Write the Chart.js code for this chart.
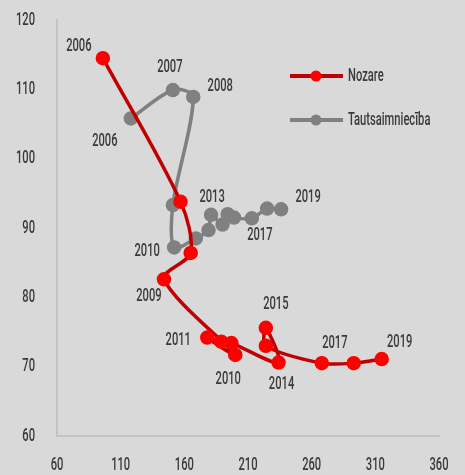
<!DOCTYPE html>
<html>
<head>
<meta charset="utf-8">
<script src="https://cdn.jsdelivr.net/npm/chart.js@4.4.1/dist/chart.umd.min.js"></script>
<style>
  html, body { margin: 0; padding: 0; background: #d9d9d9; }
  #wrap { width: 465px; height: 475px; }
</style>
</head>
<body>
<div id="wrap"><canvas id="chart-scatter" width="465" height="475"></canvas></div>
<script>
  // ========== Data ==========
  const years = [2006, 2007, 2008, 2009, 2010, 2011, 2012, 2013, 2014, 2015, 2016, 2017, 2018, 2019];
  const nozareX = [96, 157, 165, 144, 200, 178, 189, 197, 234, 224, 224, 268, 293, 315];
  const nozareY = [114.5, 93.8, 86.4, 82.6, 71.7, 74.2, 73.6, 73.4, 70.6, 75.6, 73.0, 70.5, 70.5, 71.1];
  const tautX = [118, 151, 167, 151, 152, 169, 179, 181, 190, 194, 199, 213, 225, 236];
  const tautY = [105.8, 109.9, 108.9, 93.3, 87.2, 88.5, 89.7, 91.9, 90.5, 92.0, 91.5, 91.4, 92.8, 92.7];
  const xTicks = [60, 110, 160, 210, 260, 310, 360];
  const yTicks = [60, 70, 80, 90, 100, 110, 120];
  const seriesNames = ["Nozare", "Tautsaimniecība"];
  const nozareLabelYears = [2006, 2009, 2010, 2011, 2014, 2015, 2017, 2019];
  const tautLabelYears = [2006, 2007, 2008, 2010, 2013, 2017, 2019];

  // label offsets from the point (px)
  const labelOffsets = [
    { 2006: [-24, -12], 2009: [-15, 17], 2010: [-7, 25], 2011: [-29, 3], 2014: [3, 22], 2015: [10, -23], 2017: [13, -20], 2019: [18, -17] },
    { 2006: [-26, 23], 2007: [-3, -23], 2008: [27, -10], 2010: [-27, 4], 2013: [1, -17], 2017: [8, 17], 2019: [27, -12] },
  ];
  const labelYears = [nozareLabelYears, tautLabelYears];

  // narrow look: no condensed font installed, so squeeze horizontally
  const FONT = "500 18px Roboto, sans-serif";
  const SQUEEZE = 0.62;
  const TEXT = "#3a3a3a";

  function drawText(ctx, txt, x, y, align) {
    ctx.save();
    ctx.translate(x, y);
    ctx.scale(SQUEEZE, 1);
    ctx.font = FONT;
    ctx.fillStyle = TEXT;
    ctx.textAlign = align;
    ctx.textBaseline = "middle";
    ctx.fillText(txt, 0, 0);
    ctx.restore();
  }

  const toPoints = (xs, ys) => xs.map((x, i) => ({ x: x, y: ys[i] }));

  const data = {
    datasets: [
      {
        label: seriesNames[0],
        data: toPoints(nozareX, nozareY),
        borderColor: "#c00000",
        backgroundColor: "#ff0000",
        pointBorderColor: "#ff0000",
        borderWidth: 3.5,
        pointRadius: 5.5,
        showLine: true,
        tension: 0.3,
      },
      {
        label: seriesNames[1],
        data: toPoints(tautX, tautY),
        borderColor: "#808080",
        backgroundColor: "#808080",
        pointBorderColor: "#808080",
        borderWidth: 3.5,
        pointRadius: 5.5,
        showLine: true,
        tension: 0.3,
      },
    ],
  };

  // plugin: tick labels (drawn by hand to get the narrow type)
  const tickLabels = {
    id: "tickLabels",
    afterDraw: (chart) => {
      const { ctx, scales } = chart;
      xTicks.forEach((v) => {
        drawText(ctx, String(v), scales.x.getPixelForValue(v), scales.x.top + 29, "center");
      });
      yTicks.forEach((v) => {
        drawText(ctx, String(v), scales.y.right - 22, scales.y.getPixelForValue(v), "right");
      });
    },
  };

  // plugin: year labels
  const yearLabels = {
    id: "yearLabels",
    afterDatasetsDraw: (chart) => {
      const { ctx } = chart;
      chart.data.datasets.forEach((ds, d) => {
        const meta = chart.getDatasetMeta(d);
        labelYears[d].forEach((yr) => {
          const el = meta.data[years.indexOf(yr)];
          const off = labelOffsets[d][yr];
          drawText(ctx, String(yr), el.x + off[0], el.y + off[1], "center");
        });
      });
    },
  };

  // plugin: legend drawn inside the plot
  const customLegend = {
    id: "customLegend",
    afterDraw: (chart) => {
      const { ctx } = chart;
      chart.data.datasets.forEach((ds, d) => {
        const y = 76 + d * 44;
        ctx.save();
        ctx.strokeStyle = ds.borderColor;
        ctx.lineWidth = 4;
        ctx.beginPath();
        ctx.moveTo(290, y);
        ctx.lineTo(343, y);
        ctx.stroke();
        ctx.fillStyle = ds.backgroundColor;
        ctx.beginPath();
        ctx.arc(316, y, 5.5, 0, Math.PI * 2);
        ctx.fill();
        ctx.restore();
        drawText(ctx, ds.label, 348, y, "left");
      });
    },
  };

  const ctxScatter = document.getElementById("chart-scatter").getContext("2d");
  const chartScatter = new Chart(ctxScatter, {
    type: "scatter",
    data: data,
    options: {
      responsive: false,
      animation: false,
      layout: { padding: { top: 20, right: 26, left: 0, bottom: 0 } },
      plugins: {
        legend: { display: false },
        tooltip: { enabled: false },
      },
      scales: {
        x: {
          type: "linear",
          min: xTicks[0],
          max: xTicks[xTicks.length - 1],
          afterFit: (scale) => { scale.height = 39; },
          grid: { display: false, drawTicks: false },
          border: { color: "#c4c4c4", width: 2 },
          ticks: { display: false },
        },
        y: {
          type: "linear",
          min: yTicks[0],
          max: yTicks[yTicks.length - 1],
          afterFit: (scale) => { scale.width = 57; },
          grid: { display: false, drawTicks: false },
          border: { color: "#c4c4c4", width: 2 },
          ticks: { display: false },
        },
      },
    },
    plugins: [tickLabels, yearLabels, customLegend],
  });
</script>
</body>
</html>
